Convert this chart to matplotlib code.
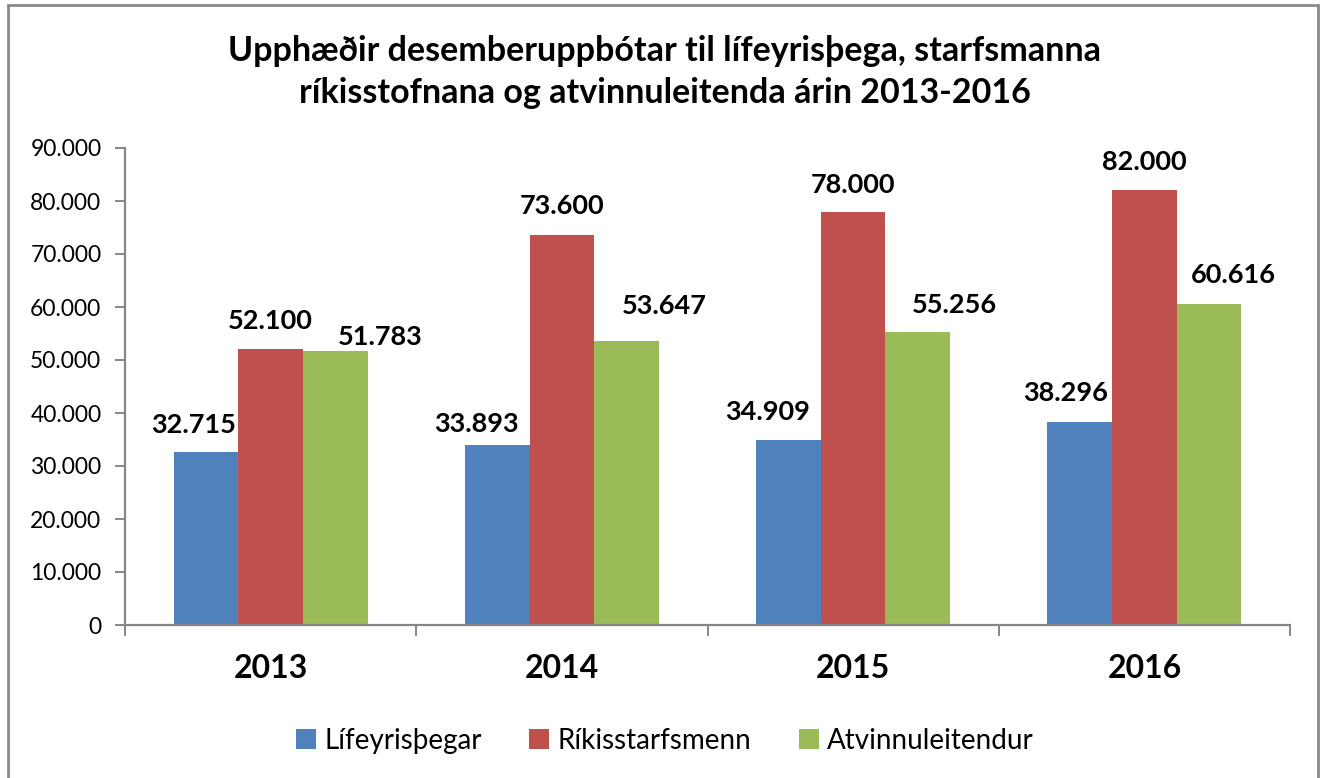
import numpy as np
import matplotlib.pyplot as plt
from matplotlib.patches import Rectangle

plt.rcParams['font.family'] = ['Lato', 'DejaVu Sans']

# Data
years = ['2013', '2014', '2015', '2016']
series_names = ['Lífeyrisþegar', 'Ríkisstarfsmenn', 'Atvinnuleitendur']
lifeyristhegar = [32715, 33893, 34909, 38296]
rikisstarfsmenn = [52100, 73600, 78000, 82000]
atvinnuleitendur = [51783, 53647, 55256, 60616]
y_ticks = [0, 10000, 20000, 30000, 40000, 50000, 60000, 70000, 80000, 90000]

series = [lifeyristhegar, rikisstarfsmenn, atvinnuleitendur]
colors = ['#4F81BD', '#C0504D', '#9BBB59']

# labels were nudged by hand in the original (pixels: dx, height above bar)
nudges = [
    [(-12, 19), (-21, 13), (-21, 20), (-14, 21)],
    [(0, 20), (0, 21), (0, 19), (0, 20)],
    [(45, 6), (38, 27), (37, 19), (24, 21)],
]


def fmt(v):
    return f"{v:,}".replace(',', '.')


W, H = 1322, 778
fig = plt.figure(figsize=(W / 100, H / 100), dpi=100)
ax = fig.add_axes([125 / W, 1 - 625 / H, (1290 - 125) / W, (625 - 148) / H])

x = np.arange(len(years))
bw = 0.222
for i, (vals, col) in enumerate(zip(series, colors)):
    pos = x + (i - 1) * bw
    ax.bar(pos, vals, width=bw, color=col, label=series_names[i], zorder=2)
    for j, v in enumerate(vals):
        dx, dy = nudges[i][j]
        ax.annotate(fmt(v), (pos[j], v), xytext=(dx, dy), textcoords='offset pixels',
                    ha='center', va='baseline', fontsize=19.5, fontweight='bold')

ax.set_xlim(-0.5, len(years) - 0.5)
ax.set_ylim(0, 90000)
ax.set_yticks(y_ticks)
ax.set_yticklabels([fmt(t) for t in y_ticks], fontsize=16.5)
ax.set_xticks(x)
ax.set_xticklabels(years, fontsize=23, fontweight='bold')
ax.set_xticks(np.arange(len(years) + 1) - 0.5, minor=True)

axis_gray = '#868686'
for s in ['top', 'right']:
    ax.spines[s].set_visible(False)
for s in ['left', 'bottom']:
    ax.spines[s].set_color(axis_gray)
    ax.spines[s].set_linewidth(1.6)
ax.tick_params(axis='y', length=7, width=1.4, color=axis_gray, pad=10)
ax.tick_params(axis='x', which='major', length=0, pad=21)
ax.tick_params(axis='x', which='minor', length=8, width=1.4, color=axis_gray)

# title
fig.text(0.503, 1 - 72 / H,
         'Upphæðir desemberuppbótar til lífeyrisþega, starfsmanna\n'
         'ríkisstofnana og atvinnuleitenda árin 2013-2016',
         ha='center', va='center', fontsize=24.5, fontweight='bold', linespacing=1.42)

# legend
handles, labels = ax.get_legend_handles_labels()
fig.legend(handles, labels, loc='center', bbox_to_anchor=(0.503, 1 - 741 / H),
           ncol=3, frameon=False, fontsize=20, handlelength=0.72, handleheight=0.72,
           handletextpad=0.3, columnspacing=1.7)

# chart frame
fig.add_artist(Rectangle((8 / W, -0.05), (1318 - 8) / W, 1 - 5 / H + 0.05,
                         transform=fig.transFigure, fill=False,
                         edgecolor='#8a8a8a', linewidth=2))

fig.savefig('out.png', dpi=100)
